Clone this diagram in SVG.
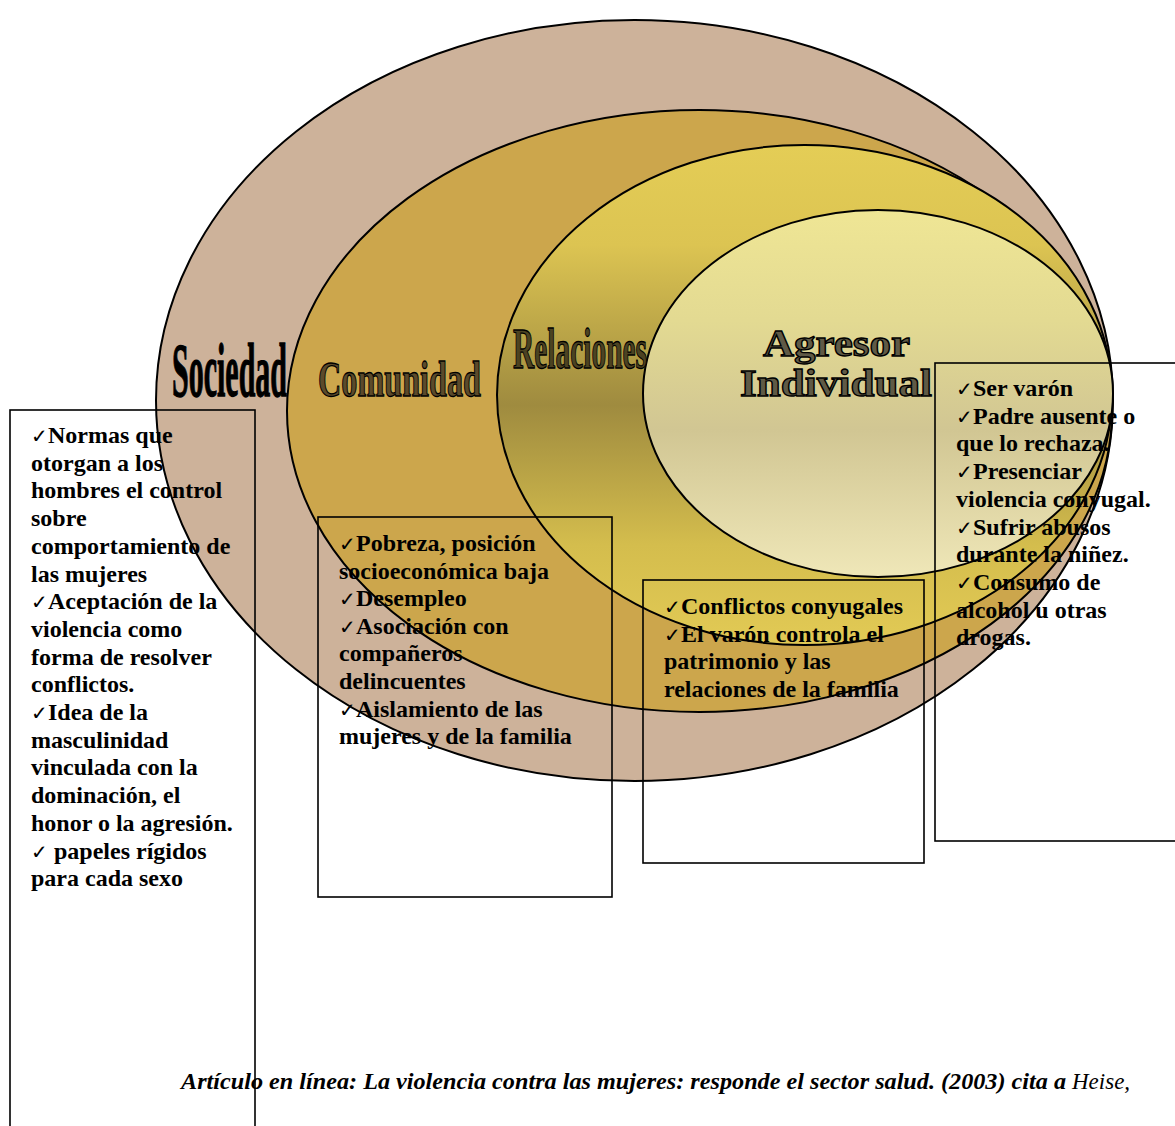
<svg xmlns="http://www.w3.org/2000/svg" width="1175" height="1126" viewBox="0 0 1175 1126">
<defs>
<linearGradient id="gRel" x1="0" y1="0" x2="0" y2="1">
<stop offset="0" stop-color="#E4CD56"/>
<stop offset="0.2" stop-color="#DCC452"/>
<stop offset="0.52" stop-color="#9F8B3F"/>
<stop offset="0.8" stop-color="#D4BD4D"/>
<stop offset="1" stop-color="#E2CA55"/>
</linearGradient>
<linearGradient id="gAgr" x1="0" y1="0" x2="0" y2="1">
<stop offset="0" stop-color="#EFE695"/>
<stop offset="0.3" stop-color="#E3DA92"/>
<stop offset="0.6" stop-color="#D1C693"/>
<stop offset="1" stop-color="#EFE7B8"/>
</linearGradient>
<style>
.ell{stroke:#000;stroke-width:2}
.box{fill:none;stroke:#000;stroke-width:1.6}
.t{font-family:"Liberation Serif","Times New Roman",serif;font-weight:bold;font-size:24px;fill:#000}
.c{font-weight:normal;font-size:20px}
.h{font-family:"Liberation Serif","Times New Roman",serif;font-weight:bold;stroke:#000;stroke-width:1.3}
.cite{font-family:"Liberation Serif","Times New Roman",serif;font-style:italic;font-size:23px;fill:#000}
</style>
</defs>
<rect width="1175" height="1126" fill="#fff"/>
<g id="sociedad">
<ellipse class="ell" cx="634.5" cy="400.5" rx="478.5" ry="380.5" fill="#CDB29A"/>
</g>
<g id="comunidad">
<ellipse class="ell" cx="699.5" cy="411" rx="412.5" ry="301" fill="#CCA64C"/>
</g>
<g id="relaciones">
<ellipse class="ell" cx="804.5" cy="395" rx="307.5" ry="250" fill="url(#gRel)"/>
</g>
<g id="agresor">
<ellipse class="ell" cx="878" cy="393.5" rx="235" ry="183.5" fill="url(#gAgr)"/>
</g>
<g id="labels">
<text class="h" x="172" y="396" font-size="76" textLength="115" lengthAdjust="spacingAndGlyphs" fill="#000" stroke-width="1.2">Sociedad</text>
<text class="h" x="318" y="396" font-size="50" textLength="163" lengthAdjust="spacingAndGlyphs" fill="#5B4A2B">Comunidad</text>
<text class="h" x="513" y="368" font-size="56" textLength="134" lengthAdjust="spacingAndGlyphs" fill="#4C4322">Relaciones</text>
<text class="h" x="763" y="356" font-size="38" textLength="147" lengthAdjust="spacingAndGlyphs" fill="#5F5A46">Agresor</text>
<text class="h" x="740" y="396" font-size="38" textLength="192" lengthAdjust="spacingAndGlyphs" fill="#5F5A46">Individual</text>
</g>
<g id="connectors"></g>
<g id="box-sociedad">
<rect class="box" x="10" y="410" width="245" height="730"/>
<text class="t">
<tspan x="31" y="443"><tspan class="c">✓</tspan>Normas que</tspan>
<tspan x="31" y="470.7">otorgan a los</tspan>
<tspan x="31" y="498.4">hombres el control</tspan>
<tspan x="31" y="526.1">sobre</tspan>
<tspan x="31" y="553.8">comportamiento de</tspan>
<tspan x="31" y="581.5">las mujeres</tspan>
<tspan x="31" y="609.2"><tspan class="c">✓</tspan>Aceptación de la</tspan>
<tspan x="31" y="636.9">violencia como</tspan>
<tspan x="31" y="664.6">forma de resolver</tspan>
<tspan x="31" y="692.3">conflictos.</tspan>
<tspan x="31" y="720"><tspan class="c">✓</tspan>Idea de la</tspan>
<tspan x="31" y="747.7">masculinidad</tspan>
<tspan x="31" y="775.4">vinculada con la</tspan>
<tspan x="31" y="803.1">dominación, el</tspan>
<tspan x="31" y="830.8">honor o la agresión.</tspan>
<tspan x="31" y="858.5"><tspan class="c">✓</tspan> papeles rígidos</tspan>
<tspan x="31" y="886.2">para cada sexo</tspan>
</text>
</g>
<g id="box-comunidad">
<rect class="box" x="318" y="517" width="294" height="380"/>
<text class="t">
<tspan x="339" y="551"><tspan class="c">✓</tspan>Pobreza, posición</tspan>
<tspan x="339" y="578.6">socioeconómica baja</tspan>
<tspan x="339" y="606.2"><tspan class="c">✓</tspan>Desempleo</tspan>
<tspan x="339" y="633.8"><tspan class="c">✓</tspan>Asociación con</tspan>
<tspan x="339" y="661.4">compañeros</tspan>
<tspan x="339" y="689">delincuentes</tspan>
<tspan x="339" y="716.6"><tspan class="c">✓</tspan>Aislamiento de las</tspan>
<tspan x="339" y="744.2">mujeres y de la familia</tspan>
</text>
</g>
<g id="box-relaciones">
<rect class="box" x="643" y="580" width="281" height="283"/>
<text class="t">
<tspan x="664" y="614"><tspan class="c">✓</tspan>Conflictos conyugales</tspan>
<tspan x="664" y="641.6"><tspan class="c">✓</tspan>El varón controla el</tspan>
<tspan x="664" y="669.2">patrimonio y las</tspan>
<tspan x="664" y="696.8">relaciones de la familia</tspan>
</text>
</g>
<g id="box-individual">
<rect class="box" x="935" y="363" width="260" height="478"/>
<text class="t">
<tspan x="956" y="396"><tspan class="c">✓</tspan>Ser varón</tspan>
<tspan x="956" y="423.7"><tspan class="c">✓</tspan>Padre ausente o</tspan>
<tspan x="956" y="451.4">que lo rechaza.</tspan>
<tspan x="956" y="479.1"><tspan class="c">✓</tspan>Presenciar</tspan>
<tspan x="956" y="506.8">violencia conyugal.</tspan>
<tspan x="956" y="534.5"><tspan class="c">✓</tspan>Sufrir abusos</tspan>
<tspan x="956" y="562.2">durante la niñez.</tspan>
<tspan x="956" y="589.9"><tspan class="c">✓</tspan>Consumo de</tspan>
<tspan x="956" y="617.6">alcohol u otras</tspan>
<tspan x="956" y="645.3">drogas.</tspan>
</text>
</g>
<g id="citation">
<text class="cite" x="181" y="1089" font-weight="bold" textLength="885" lengthAdjust="spacingAndGlyphs">Artículo en línea: La violencia contra las mujeres: responde el sector salud. (2003) cita  a</text>
<text class="cite" x="1072" y="1089">Heise,</text>
</g>
</svg>
